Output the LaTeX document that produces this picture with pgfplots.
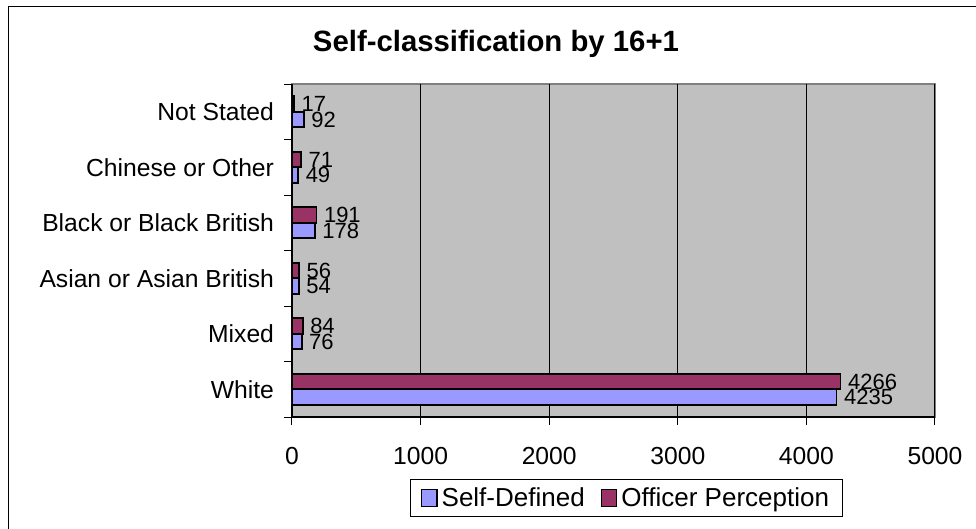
\documentclass[border=0pt]{standalone}
\usepackage{fontspec}
\setmainfont{Liberation Sans}
\usepackage{pgfplots}
\pgfplotsset{compat=1.18}
\definecolor{selfblue}{HTML}{9999FF}
\definecolor{offpurple}{HTML}{993366}
\definecolor{plotgrey}{HTML}{C0C0C0}
\definecolor{edgegrey}{HTML}{808080}

\begin{document}
\begin{tikzpicture}
\begin{axis}[
    at={(0,0)}, anchor=south west,
    scale only axis,
    width=482.25pt, height=249.75pt,
    xbar,
    xmin=0, xmax=5000,
    ymin=-0.5, ymax=5.5,
    xtick={0,1000,...,5000},
    ytick={-0.5,0.5,...,5.5},
    y tick label as interval,
    yticklabels={White,Mixed,Asian or Asian British,Black or Black British,Chinese or Other,Not Stated},
    scaled x ticks=false,
    /pgf/number format/1000 sep={},
    /pgf/number format/assume math mode=true,
    tick align=outside,
    tick pos=left,
    major tick length=6pt,
    tick style={black, line width=0.75pt},
    xmajorgrids,
    major grid style={black, line width=0.75pt},
    axis line style={draw=none},
    axis background/.style={fill=plotgrey, draw=edgegrey, line width=1.5pt},
    ticklabel style={font=\fontsize{18.5}{20}\selectfont},
    xticklabel style={yshift=-13pt},
    yticklabel style={xshift=-4pt},
    bar width=0.28,
    point meta=x,
    nodes near coords,
    nodes near coords style={font=\fontsize{16.5}{17}\selectfont, inner sep=1pt, xshift=4pt},
    legend columns=2,
    legend style={at={(0.52,-0.243)}, anchor=center, draw=black, line width=0.75pt,
        font=\fontsize{19.5}{21}\selectfont, inner xsep=8pt, inner ysep=4pt,
        /tikz/every odd column/.append style={column sep=1pt},
        /tikz/every even column/.append style={column sep=10pt}},
    legend image code/.code={\draw[#1, draw=black, line width=1pt] (0pt,-6.5pt) rectangle (11.5pt,6.5pt);},
]
\addplot[fill=selfblue, draw=black, line width=1.2pt, bar shift=-0.14]
    coordinates {(4235,0) (76,1) (54,2) (178,3) (49,4) (92,5)};
\addplot[fill=offpurple, draw=black, line width=1.2pt, bar shift=0.14]
    coordinates {(4266,0) (84,1) (56,2) (191,3) (71,4) (17,5)};
\legend{Self-Defined, Officer Perception}
\draw[black, line width=1pt] (rel axis cs:0,1) -- (rel axis cs:0,0) -- (rel axis cs:1,0);
\end{axis}
\node[font=\bfseries\fontsize{22}{24}\selectfont] at (153pt,279.75pt) {Self-classification by 16+1};
\draw[line width=0.75pt] (-212.25pt,-100pt) -- (-212.25pt,307.5pt) -- (530pt,307.5pt);
\pgfresetboundingbox
\useasboundingbox (-219pt,-84pt) rectangle (513pt,312.75pt);
\end{tikzpicture}
\end{document}
